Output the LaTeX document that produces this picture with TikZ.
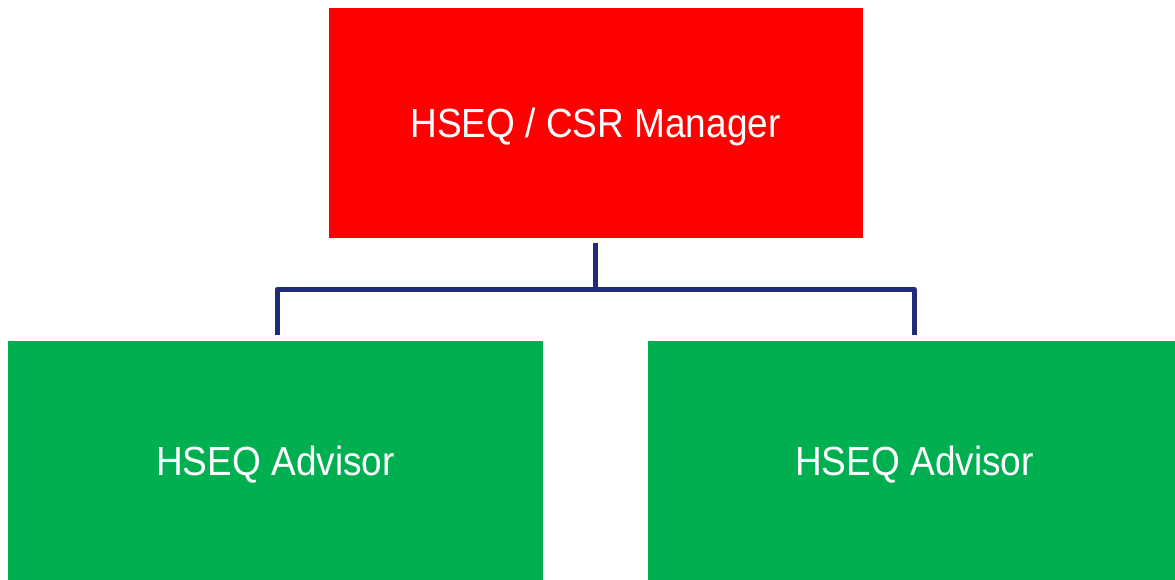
\documentclass[tikz,border=0pt]{standalone}
\usepackage{fontspec}
\setmainfont{Liberation Sans}
\usepackage[dvipsnames]{xcolor}
\usepackage{graphicx}
\definecolor{hseqred}{RGB}{255,0,0}
\definecolor{hseqgreen}{RGB}{0,176,80}
\definecolor{hseqblue}{RGB}{31,42,122}
\newcommand{\tallbox}[1]{\scalebox{1}[1.1]{#1}}
\begin{document}
\begin{tikzpicture}[x=1pt,y=-1pt,thick,
  box node/.style={rectangle,inner sep=0pt,text=white,text height=29pt,text depth=0pt,font=\fontsize{37}{44}\selectfont},
  link/.style={draw=hseqblue,line width=5pt,line join=round}]

            \useasboundingbox (0,0) rectangle (1175,580);
            \clip (0,0) rectangle (1175,580);

            \node[box node, fill=hseqred, minimum width=534pt, minimum height=229pt] (1) at (595.5,123) {\tallbox{HSEQ / CSR Manager}};
            \node[box node, fill=hseqgreen, minimum width=535pt, minimum height=240pt] (2) at (275.5,461) {\tallbox{HSEQ Advisor}};
            \node[box node, fill=hseqgreen, minimum width=533pt, minimum height=240pt] (3) at (914.5,461) {\tallbox{HSEQ Advisor}};

            \coordinate (bus) at (595.5,289.5);

            \draw[link] ([yshift=-5.5pt]1.south) -- (bus);
            \draw[link] (bus) -| ([xshift=1.5pt,yshift=5.5pt]2.north);
            \draw[link] (bus) -| ([xshift=-0.5pt,yshift=5.5pt]3.north);

        \end{tikzpicture}
\end{document}
